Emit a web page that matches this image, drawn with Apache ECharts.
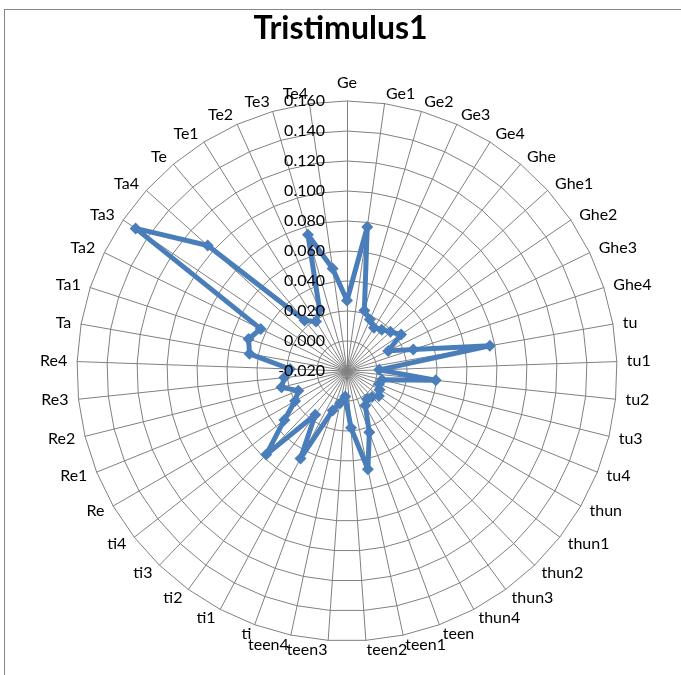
<!DOCTYPE html>
<html>
<head>
<meta charset="utf-8">
<title>Tristimulus1</title>
<script src="https://cdn.jsdelivr.net/npm/echarts@6/dist/echarts.min.js"></script>
<style>
html, body { margin: 0; padding: 0; background: #fff; }
#frame {
    position: absolute; left: 4px; top: 9px; width: 700px; height: 700px;
    border: 1px solid #868686; box-sizing: border-box;
}
#main { position: absolute; left: 0; top: 0; width: 681px; height: 675px; }
</style>
</head>
<body>
<div id="frame"></div>
<div id="main"></div>
<script>
// categories, clockwise from the top
var categories = ['Ge', 'Ge1', 'Ge2', 'Ge3', 'Ge4', 'Ghe', 'Ghe1', 'Ghe2', 'Ghe3', 'Ghe4',
    'tu', 'tu1', 'tu2', 'tu3', 'tu4', 'thun', 'thun1', 'thun2', 'thun3', 'thun4',
    'teen', 'teen1', 'teen2', 'teen3', 'teen4', 'ti', 'ti1', 'ti2', 'ti3', 'ti4',
    'Re', 'Re1', 'Re2', 'Re3', 'Re4', 'Ta', 'Ta1', 'Ta2', 'Ta3', 'Ta4',
    'Te', 'Te1', 'Te2', 'Te3', 'Te4'];

var tristimulus1 = [0.027, 0.077, 0.022, 0.0175, 0.014, 0.016, 0.019, 0.0235, 0.0106, 0.0265,
    0.0767, 0.0015, 0.0395, 0.004, 0.003, 0.005, 0.007, 0.004, 0.003, 0.006,
    0.0235, 0.047, 0.018, -0.003, 0.002, 0.008, 0.046, 0.016, 0.0575, 0.033,
    0.020, 0.015, 0.025, 0.022, 0.018, 0.046, 0.049, 0.044, 0.150, 0.105,
    0.024, 0.019, 0.025, 0.0745, 0.049];

var axisMin = -0.02;
var axisMax = 0.16;
var axisStep = 0.02;

var cx = 347, cy = 371, rad = 270;
var lineColor = '#808080';
var blue = '#4A7EBB';
var font = 'Lato';

// echarts radar goes counter-clockwise, excel goes clockwise -> flip the order
var order = [0];
for (var i = categories.length - 1; i > 0; i--) order.push(i);

var chartDom = document.getElementById('main');
var myChart = echarts.init(chartDom);
var option;

option = {
    animation: false,
    title: {
        text: 'Tristimulus1',
        left: 'center',
        top: 8,
        textStyle: { fontFamily: font, fontWeight: 'bold', fontSize: 32, color: '#000' }
    },
    radar: {
        center: [cx, cy],
        radius: rad,
        startAngle: 90,
        splitNumber: Math.round((axisMax - axisMin) / axisStep),
        shape: 'polygon',
        nameGap: 10,
        axisName: { color: '#000', fontFamily: font, fontSize: 16 },
        indicator: order.map(function (k) {
            return { name: categories[k], min: axisMin, max: axisMax };
        }),
        axisLine: { lineStyle: { color: lineColor, width: 1 } },
        splitLine: { lineStyle: { color: lineColor, width: 1 } },
        splitArea: { show: false },
        axisTick: { show: false },
        axisLabel: { show: false }
    },
    // value labels along the Ge spoke, drawn above the series like excel does
    grid: { left: cx, top: cy - rad, width: 1, height: rad },
    xAxis: { type: 'value', show: false },
    yAxis: {
        type: 'value',
        z: 10,
        min: axisMin,
        max: axisMax,
        interval: axisStep,
        axisLine: { show: false },
        axisTick: { show: false },
        splitLine: { show: false },
        axisLabel: {
            margin: 22,
            color: '#000',
            fontFamily: font,
            fontSize: 16,
            formatter: function (v) { return v.toFixed(3); }
        }
    },
    series: [
        {
            type: 'radar',
            symbol: 'diamond',
            symbolSize: 12,
            lineStyle: { color: blue, width: 5 },
            itemStyle: { color: blue },
            data: [
                { name: 'Tristimulus1', value: order.map(function (k) { return tristimulus1[k]; }) }
            ]
        }
    ]
};
option && myChart.setOption(option);
</script>
</body>
</html>
